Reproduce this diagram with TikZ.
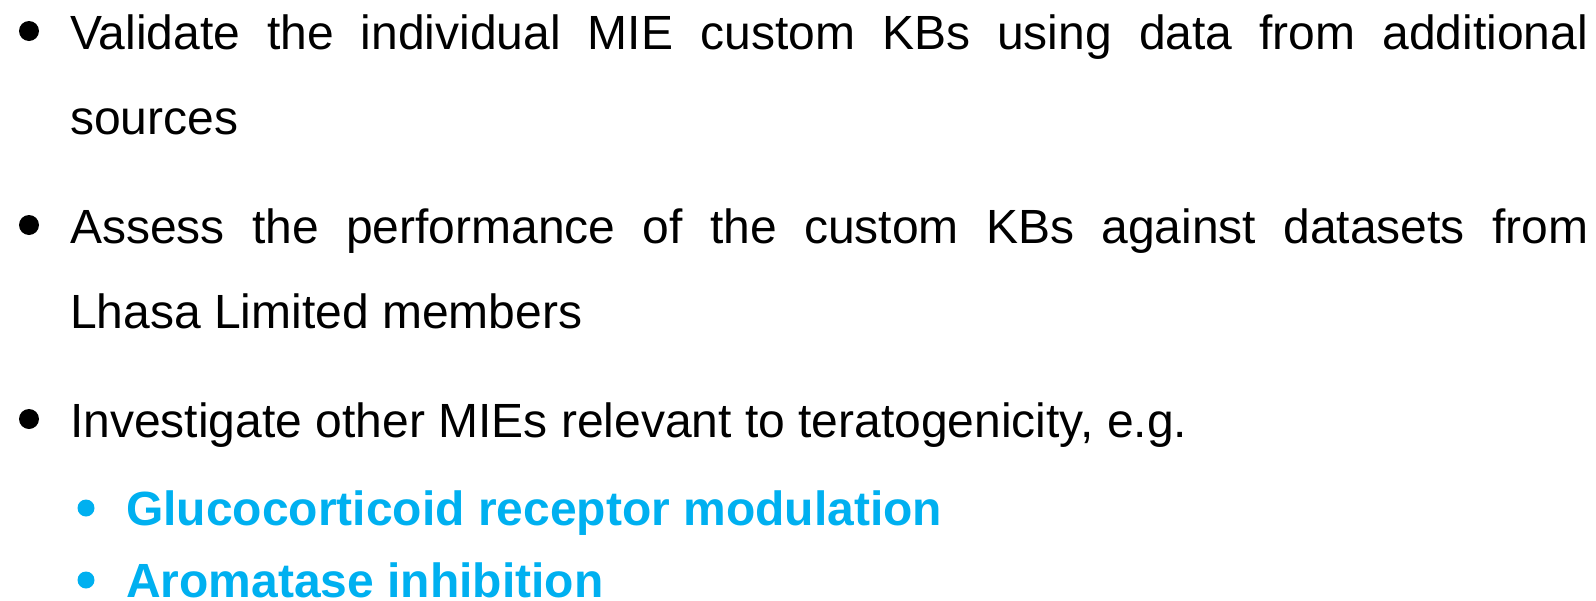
\documentclass[tikz,border=0pt]{standalone}
\usepackage{fontspec}
\setmainfont{Liberation Sans}
\definecolor{lightblue}{HTML}{00B0F0}
\tikzset{
  txt/.style={anchor=base west,inner sep=0pt,font=\fontsize{48}{57}\selectfont},
  subtxt/.style={txt,text=lightblue,font=\fontsize{48}{57}\selectfont\bfseries},
}
\newcommand{\fullline}[1]{\makebox[1518pt][s]{#1}}
\begin{document}
\begin{tikzpicture}[x=1pt,y=-1pt]
\useasboundingbox (0,0) rectangle (1596,600);
% main bullets
\fill (29,31) circle (10);
\fill (29,225) circle (10);
\fill (29,419) circle (10);
\node[txt] (val) at (70,49) {\fullline{Validate the individual MIE custom KBs using data from additional}};
\node[txt] (src) at (70,134) {sources};
\node[txt] (ass) at (70,243) {\fullline{Assess the performance of the custom KBs against datasets from}};
\node[txt] (lha) at (70,328) {Lhasa Limited members};
\node[txt] (inv) at (70,437) {Investigate other MIEs relevant to teratogenicity, e.g.};
% sub bullets
\fill[lightblue] (86,508) circle (8.5);
\fill[lightblue] (86,580) circle (8.5);
\node[subtxt] (glu) at (126,525) {Glucocorticoid receptor modulation};
\node[subtxt] (aro) at (126,597) {Aromatase inhibition};
\end{tikzpicture}
\end{document}
